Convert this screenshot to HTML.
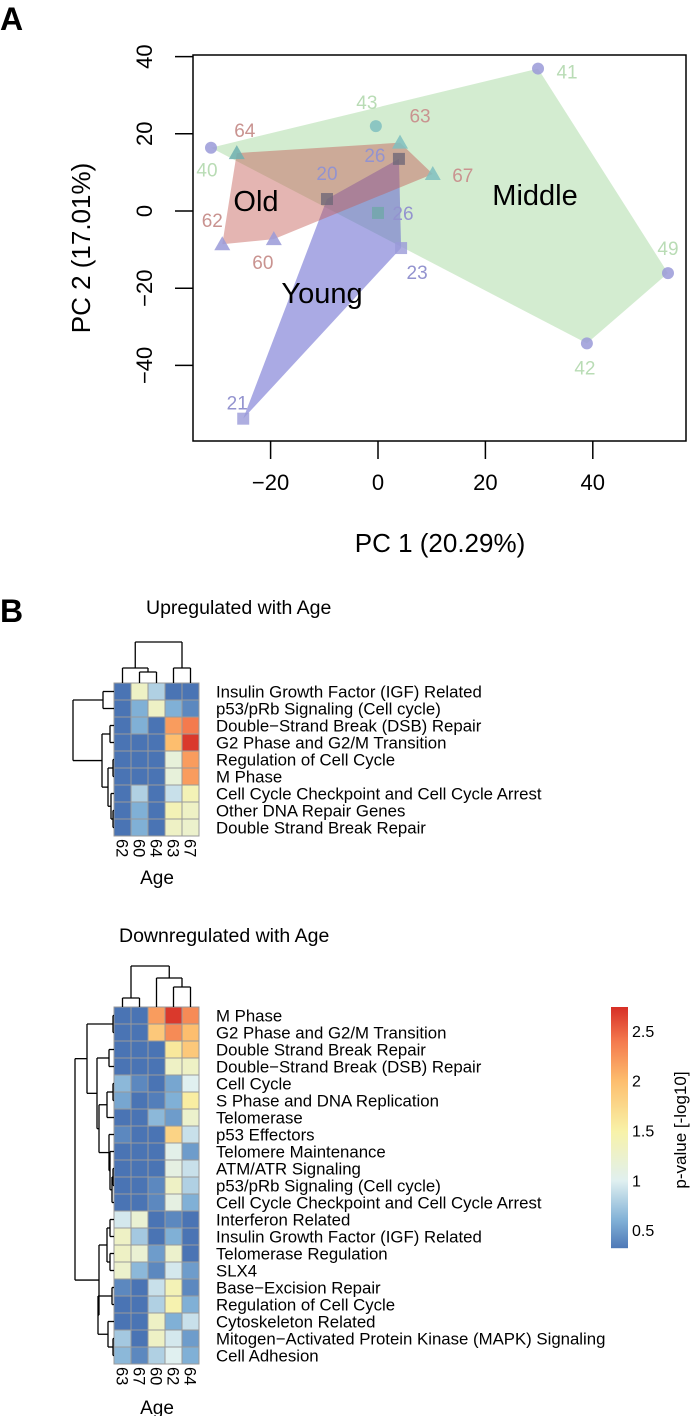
<!DOCTYPE html>
<html><head><meta charset="utf-8">
<style>
html,body{margin:0;padding:0;background:#fff;}
svg{display:block;font-family:"Liberation Sans",Arial,sans-serif;}
</style></head>
<body>
<svg id="fig" width="693" height="1416" viewBox="0 0 693 1416" xmlns="http://www.w3.org/2000/svg">
<text x="0" y="30" font-size="32" font-weight="bold">A</text>
<text x="0" y="622" font-size="32" font-weight="bold">B</text>
<g id="pca"></g>
<g id="hm1"></g>
<g id="hm2"></g>
<g id="cbar"></g>
</svg>
<script>
// ---------- PCA data ----------
const pcaLabels = ["40","64","62","60","20","43","63","26","67","26","23","21","41","49","42"];
const pcaX = [-31.1,-26.3,-29,-19.4,-9.5,-0.4,4.1,3.9,10.2,0,4.3,-25.1,29.8,54,38.9];
const pcaY = [16.4,15,-8.6,-7.3,3.1,22,17.7,13.5,9.6,-0.5,-9.6,-53.8,36.9,-16.1,-34.3];
const pcaGroup = ["Middle","Old","Old","Old","Young","Middle","Old","Young","Old","Young","Young","Young","Middle","Middle","Middle"];
const pcaShape = ["circle","tri","tri","tri","sq","circle","tri","sq","tri","sq","sq","sq","circle","circle","circle"];
const pcaMarkColor = ["#9a9ad8","#6fb0b0","#9a9ad8","#9a9ad8","#6f6878","#7fbfbf","#7fbfbf","#6f6878","#7fbfbf","#6fa8a8","#9a9ad8","#9a9ad8","#9a9ad8","#9a9ad8","#9a9ad8"];
const hullOld = [1,6,8,3,2];
const hullYoung = [4,7,10,11];
const hullMiddle = [0,12,13,14];
const xTicks = [-20,0,20,40];
const yTicks = [-40,-20,0,20,40];
const labelDX = [-4,8,-10,-11,0,-9,20,-24,30,25,16,-6,29,0,-2];
const labelDY = [22,-23,-24,23,-26,-24,-27,-4,1,0,24,-16,3,-25,24];

// ---------- Heatmap data ----------
const up_rows = ["Insulin Growth Factor (IGF) Related","p53/pRb Signaling (Cell cycle)","Double\u2212Strand Break (DSB) Repair","G2 Phase and G2/M Transition","Regulation of Cell Cycle","M Phase","Cell Cycle Checkpoint and Cell Cycle Arrest","Other DNA Repair Genes","Double Strand Break Repair"];
const up_cols = ["62","60","64","63","67"];
const up_vals = [
[0.1,1.3,0.8,0.1,0.1],
[0.1,0.6,1.3,0.6,0.4],
[0.1,0.6,0.1,2.2,2.4],
[0.1,0.1,0.1,2.0,2.7],
[0.1,0.1,0.1,1.15,2.2],
[0.1,0.1,0.1,1.15,2.2],
[0.1,0.8,0.3,0.9,1.4],
[0.25,0.6,0.3,1.4,1.3],
[0.1,0.6,0.1,1.3,1.25]];
const dn_rows = ["M Phase","G2 Phase and G2/M Transition","Double Strand Break Repair","Double\u2212Strand Break (DSB) Repair","Cell Cycle","S Phase and DNA Replication","Telomerase","p53 Effectors","Telomere Maintenance","ATM/ATR Signaling","p53/pRb Signaling (Cell cycle)","Cell Cycle Checkpoint and Cell Cycle Arrest","Interferon Related","Insulin Growth Factor (IGF) Related","Telomerase Regulation","SLX4","Base\u2212Excision Repair","Regulation of Cell Cycle","Cytoskeleton Related","Mitogen\u2212Activated Protein Kinase (MAPK) Signaling","Cell Adhesion"];
const dn_cols = ["63","67","60","62","64"];
const dn_vals = [
[0.2,0.1,2.2,2.7,2.3],
[0.2,0.1,1.9,2.3,2.0],
[0.1,0.1,0.2,1.6,1.9],
[0.1,0.1,0.3,1.3,1.3],
[0.65,0.4,0.2,0.55,1.0],
[0.55,0.2,0.35,0.6,1.55],
[0.3,0.3,0.65,0.5,1.25],
[0.4,0.3,0.2,1.8,0.9],
[0.3,0.2,0.1,1.05,0.5],
[0.2,0.2,0.1,1.1,0.9],
[0.3,0.25,0.4,1.3,0.8],
[0.3,0.2,0.4,1.1,0.6],
[0.95,1.2,0.3,0.4,0.1],
[1.3,0.75,0.1,0.6,0.2],
[1.3,1.2,0.5,1.25,0.3],
[1.25,0.65,0.4,0.95,0.5],
[0.4,0.3,0.9,1.4,0.4],
[0.3,0.1,0.8,1.45,0.6],
[0.3,0.1,1.3,0.6,0.9],
[0.75,0.1,1.3,0.95,0.5],
[0.65,0.4,0.8,1.0,0.6]];
// dendrograms: [children..., height(px from leaves)]
const up_rowTree = [[0,1,11],[[2,3,4],[[4,5,1],[6,[7,8,1],3],6],12],41];
const up_colTree = [[0,[1,2,11],15],[3,4,15],41];
const dn_rowTree = [[[0,1,1],[[2,3,5],[[[4,5,1],6,7],[7,[8,[[9,10,1],11,2],4],5],15],17],27],
  [[[12,13,4],[14,15,4],7],[[16,17,2],[18,[19,20,1],6],16],15],39];
const dn_colTree = [[0,1,9],[2,[3,4,20],29],41];
const cbTicks = [0.5,1,1.5,2,2.5];

const NS="http://www.w3.org/2000/svg";
function mk(tag,attrs,parent){const e=document.createElementNS(NS,tag);for(const k in attrs)e.setAttribute(k,attrs[k]);parent.appendChild(e);return e;}

// ---------- PCA ----------
const pca=document.getElementById('pca');
const X0=193,X1=686,Y0=55,Y1=441;
const xs=v=>378+v*5.37, ys=v=>211-v*3.86;
function hull(idx,fill,name){
  const pts=idx.map(i=>xs(pcaX[i])+","+ys(pcaY[i])).join(" ");
  const p=mk('polygon',{points:pts,fill:fill},pca);
  
  
}
hull(hullMiddle,"rgba(130,200,120,0.35)","middle-hull");
hull(hullYoung,"rgba(100,100,205,0.55)","young-hull");
hull(hullOld,"rgba(195,90,85,0.45)","old-hull");
pcaX.forEach((v,i)=>{
  const cx=xs(v),cy=ys(pcaY[i]);let m;
  if(pcaShape[i]==="circle") m=mk('circle',{cx:cx,cy:cy,r:6,fill:pcaMarkColor[i],'fill-opacity':0.85},pca);
  else if(pcaShape[i]==="tri") m=mk('polygon',{points:`${cx},${cy-8} ${cx-8},${cy+6} ${cx+8},${cy+6}`,fill:pcaMarkColor[i],'fill-opacity':0.85},pca);
  else m=mk('rect',{x:cx-6,y:cy-6,width:12,height:12,fill:pcaMarkColor[i],'fill-opacity':0.8},pca);
  
  
  const col=pcaGroup[i]==="Old"?"#c99390":pcaGroup[i]==="Young"?"#9393cf":"#b9dcb5";
  const t=mk('text',{x:cx+labelDX[i],y:cy+labelDY[i]+7,'font-size':19,fill:col,'text-anchor':'middle'},pca);
  t.textContent=pcaLabels[i];
  
  
});
[["Old",256,211],["Young",322,303],["Middle",535,205]].forEach(g=>{
  const t=mk('text',{x:g[1],y:g[2],'font-size':29,'text-anchor':'middle',fill:'#000'},pca);
  t.textContent=g[0];
  
  
});
const box=mk('rect',{x:X0,y:Y0,width:X1-X0,height:Y1-Y0,fill:'none',stroke:'#000','stroke-width':1.5},pca);


xTicks.forEach(v=>{
  mk('line',{x1:xs(v),x2:xs(v),y1:Y1,y2:Y1+18,stroke:'#000','stroke-width':1.5},pca);
  const t=mk('text',{x:xs(v),y:490,'font-size':22,'text-anchor':'middle'},pca);
  t.textContent=v<0?"\u2212"+(-v):v;
  
  
});
yTicks.forEach(v=>{
  mk('line',{x1:X0-18,x2:X0,y1:ys(v),y2:ys(v),stroke:'#000','stroke-width':1.5},pca);
  const t=mk('text',{x:0,y:0,'font-size':22,'text-anchor':'middle',transform:`translate(152,${ys(v)}) rotate(-90)`},pca);
  t.textContent=v<0?"\u2212"+(-v):v;
  
  
});
{const t=mk('text',{x:440,y:552,'font-size':26,'text-anchor':'middle'},pca);t.textContent="PC 1 (20.29%)";

const t2=mk('text',{x:0,y:0,'font-size':26,'text-anchor':'middle',transform:'translate(90,248) rotate(-90)'},pca);t2.textContent="PC 2 (17.01%)";
}

// ---------- color scale ----------
const stops=[[0.3,[74,116,180]],[0.6,[128,176,214]],[1.0,[224,240,240]],[1.5,[248,242,168]],[2.0,[253,190,110]],[2.4,[244,122,78]],[2.74,[215,48,39]]];
function col(v){
  if(v<=stops[0][0])return `rgb(${stops[0][1]})`;
  for(let i=1;i<stops.length;i++){if(v<=stops[i][0]){const a=stops[i-1],b=stops[i],f=(v-a[0])/(b[0]-a[0]);
    return `rgb(${a[1].map((c,k)=>Math.round(c+(b[1][k]-c)*f)).join(",")})`;}}
  return `rgb(${stops[stops.length-1][1]})`;
}

// ---------- heatmaps ----------
const CW=17,CH=17;
function dendro(g,tree,orient,base,origin){
  function rec(n){
    if(typeof n==="number")return {p:origin+n*(orient==='row'?CH:CW)+(orient==='row'?CH:CW)/2,h:0};
    const kids=n.slice(0,n.length-1).map(rec),h=n[n.length-1];
    const ps=kids.map(k=>k.p);
    kids.forEach(k=>{
      if(orient==='row')mk('line',{x1:base-k.h,x2:base-h,y1:k.p,y2:k.p,stroke:'#000','stroke-width':1.3},g);
      else mk('line',{y1:base-k.h,y2:base-h,x1:k.p,x2:k.p,stroke:'#000','stroke-width':1.3},g);
    });
    const a=Math.min(...ps),b=Math.max(...ps);
    if(orient==='row')mk('line',{x1:base-h,x2:base-h,y1:a,y2:b,stroke:'#000','stroke-width':1.3},g);
    else mk('line',{y1:base-h,y2:base-h,x1:a,x2:b,stroke:'#000','stroke-width':1.3},g);
    return {p:(a+b)/2,h:h};
  }
  rec(tree);
}
function heatmap(id,title,titleX,titleY,rows,cols,vals,rowTree,colTree,top,ageY){
  const g=document.getElementById(id);const L=114;
  const t=mk('text',{x:titleX,y:titleY,'font-size':19.5},g);t.textContent=title;
  
  vals.forEach((r,i)=>r.forEach((v,j)=>{
    const c=mk('rect',{x:L+j*CW,y:top+i*CH,width:CW,height:CH,fill:col(v),stroke:'#9a9a9a','stroke-width':1},g);
    
    
  }));
  rows.forEach((r,i)=>{const tt=mk('text',{x:216,y:top+i*CH+CH/2+6,'font-size':16.8},g);tt.textContent=r;
    });
  cols.forEach((c,j)=>{const tt=mk('text',{x:0,y:0,'font-size':16.5,transform:`translate(${L+j*CW+CW/2-6},${top+rows.length*CH+3}) rotate(90)`},g);tt.textContent=c;
    });
  const a=mk('text',{x:157,y:ageY,'font-size':19,'text-anchor':'middle'},g);a.textContent="Age";
  
  dendro(g,rowTree,'row',L,top);
  dendro(g,colTree,'col',top,L);
}
heatmap('hm1',"Upregulated with Age",146,614,up_rows,up_cols,up_vals,up_rowTree,up_colTree,683,884);
heatmap('hm2',"Downregulated with Age",119,942,dn_rows,dn_cols,dn_vals,dn_rowTree,dn_colTree,1007,1414);

// ---------- colorbar ----------
const cb=document.getElementById('cbar');
const CB_T=1007,CB_B=1248,CB_MAX=2.74,CB_MIN=0.32;
const cy=v=>CB_B-(v-CB_MIN)/(CB_MAX-CB_MIN)*(CB_B-CB_T);
for(let y=CB_T;y<CB_B;y++){
  const v=CB_MIN+(CB_B-y)/(CB_B-CB_T)*(CB_MAX-CB_MIN);
  mk('rect',{x:611,y:y,width:17,height:1.2,fill:col(v)},cb);
}
cbTicks.forEach(v=>{const t=mk('text',{x:632,y:cy(v)+6,'font-size':16},cb);t.textContent=v;
  });
{const t=mk('text',{x:0,y:0,'font-size':17,'text-anchor':'middle',transform:'translate(686,1130) rotate(-90)'},cb);t.textContent="p-value [-log10]";
}
</script>
</body></html>
